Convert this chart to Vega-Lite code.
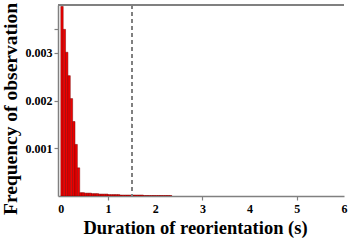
{
  "$schema": "https://vega.github.io/schema/vega-lite/v6.json",
  "autosize": {"type": "none"},
  "width": 286,
  "height": 191,
  "padding": {"left": 58, "top": 5, "right": 10, "bottom": 49},
  "background": "white",
  "config": {
    "view": {"stroke": null},
    "font": "Liberation Serif"
  },
  "data": {
    "values": [
      {"start": 0.00, "end": 0.05, "freq": 0.00397},
      {"start": 0.05, "end": 0.10, "freq": 0.00349},
      {"start": 0.10, "end": 0.15, "freq": 0.00301},
      {"start": 0.15, "end": 0.20, "freq": 0.00252},
      {"start": 0.20, "end": 0.25, "freq": 0.00204},
      {"start": 0.25, "end": 0.30, "freq": 0.00156},
      {"start": 0.30, "end": 0.35, "freq": 0.00108},
      {"start": 0.35, "end": 0.40, "freq": 0.00059},
      {"start": 0.40, "end": 0.45, "freq": 0.00007},
      {"start": 0.45, "end": 0.50, "freq": 0.00007},
      {"start": 0.50, "end": 0.55, "freq": 0.00006},
      {"start": 0.55, "end": 0.60, "freq": 0.00006},
      {"start": 0.60, "end": 0.65, "freq": 0.00006},
      {"start": 0.65, "end": 0.70, "freq": 0.00005},
      {"start": 0.70, "end": 0.75, "freq": 0.00005},
      {"start": 0.75, "end": 0.80, "freq": 0.00005},
      {"start": 0.80, "end": 0.85, "freq": 0.00004},
      {"start": 0.85, "end": 0.90, "freq": 0.00004},
      {"start": 0.90, "end": 0.95, "freq": 0.00004},
      {"start": 0.95, "end": 1.00, "freq": 0.00004},
      {"start": 1.00, "end": 1.05, "freq": 0.00003},
      {"start": 1.05, "end": 1.10, "freq": 0.00003},
      {"start": 1.10, "end": 1.15, "freq": 0.00003},
      {"start": 1.15, "end": 1.20, "freq": 0.00003},
      {"start": 1.20, "end": 1.25, "freq": 0.00003},
      {"start": 1.25, "end": 1.30, "freq": 0.00002},
      {"start": 1.30, "end": 1.35, "freq": 0.00002},
      {"start": 1.35, "end": 1.40, "freq": 0.00002},
      {"start": 1.40, "end": 1.45, "freq": 0.00002},
      {"start": 1.45, "end": 1.50, "freq": 0.00002},
      {"start": 1.50, "end": 1.55, "freq": 0.00002},
      {"start": 1.55, "end": 1.60, "freq": 0.00002},
      {"start": 1.60, "end": 1.65, "freq": 0.00002},
      {"start": 1.65, "end": 1.70, "freq": 0.00002},
      {"start": 1.70, "end": 1.75, "freq": 0.00002},
      {"start": 1.75, "end": 1.80, "freq": 0.00001},
      {"start": 1.80, "end": 1.85, "freq": 0.00001},
      {"start": 1.85, "end": 1.90, "freq": 0.00001},
      {"start": 1.90, "end": 1.95, "freq": 0.00001},
      {"start": 1.95, "end": 2.00, "freq": 0.00001},
      {"start": 2.00, "end": 2.05, "freq": 0.00001},
      {"start": 2.05, "end": 2.10, "freq": 0.00001},
      {"start": 2.10, "end": 2.15, "freq": 0.00001},
      {"start": 2.15, "end": 2.20, "freq": 0.00001},
      {"start": 2.20, "end": 2.25, "freq": 0.00001},
      {"start": 2.25, "end": 2.30, "freq": 0.00001},
      {"start": 2.30, "end": 2.35, "freq": 0.00001}
    ]
  },
  "layer": [
    {
      "mark": {"type": "rect", "fill": "#f00000", "stroke": "#7a0000", "strokeWidth": 0.5, "clip": true},
      "encoding": {
        "x": {
          "field": "start", "type": "quantitative",
          "scale": {"domain": [-0.06, 6.0], "nice": false, "zero": false},
          "axis": {
            "values": [0, 1, 2, 3, 4, 5, 6],
            "title": "Duration of reorientation (s)",
            "titleFont": "Liberation Serif", "titleFontSize": 18.5, "titleFontWeight": "bold", "titleColor": "black",
            "titleX": 137, "titleY": 37, "titleBaseline": "alphabetic", "titleAlign": "center",
            "labelFont": "Liberation Serif", "labelFontSize": 12, "labelFontWeight": "bold", "labelColor": "black",
            "labelPadding": 3, "labelOverlap": false, "labelFlush": false,
            "domainColor": "#808080", "domainWidth": 1.5,
            "tickColor": "#808080", "tickSize": 4, "tickWidth": 1.2,
            "tickOpacity": {"condition": {"test": "datum.value % 2 == 1", "value": 1}, "value": 0},
            "grid": false
          }
        },
        "x2": {"field": "end"},
        "y": {
          "field": "freq", "type": "quantitative",
          "scale": {"domain": [0, 0.004], "nice": false},
          "axis": {
            "values": [0.001, 0.002, 0.003, 0.0035],
            "labelExpr": "datum.value > 0.0032 ? '' : format(datum.value, '.3f')",
            "title": "Frequency of observation",
            "titleFont": "Liberation Serif", "titleFontSize": 19.5, "titleFontWeight": "bold", "titleColor": "black",
            "titleX": -42, "titleY": 103.5, "titleBaseline": "alphabetic", "titleAlign": "center", "titleAngle": -90,
            "labelFont": "Liberation Serif", "labelFontSize": 12, "labelFontWeight": "bold", "labelColor": "black",
            "labelPadding": 2,
            "domainColor": "#808080", "domainWidth": 1.5,
            "tickColor": "#808080", "tickSize": 4, "tickWidth": 1.2,
            "grid": false
          }
        },
        "y2": {"datum": 0}
      }
    },
    {
      "mark": {"type": "rule", "color": "#808080", "strokeWidth": 1, "strokeDash": [4, 3]},
      "encoding": {
        "x": {"datum": 1.5, "type": "quantitative"}
      }
    },
    {
      "mark": {"type": "rule", "color": "#808080", "strokeWidth": 1.5},
      "encoding": {
        "y": {"datum": 0.004, "type": "quantitative"}
      }
    }
  ]
}
